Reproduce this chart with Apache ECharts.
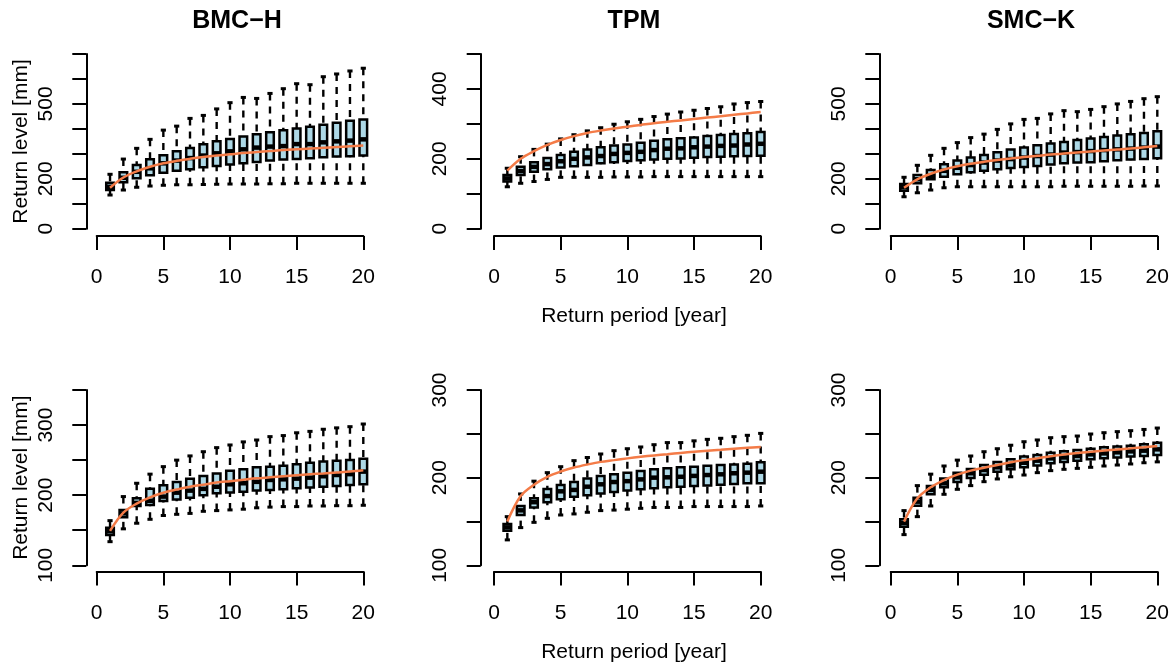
<!DOCTYPE html>
<html>
<head>
<meta charset="utf-8">
<script src="https://cdn.jsdelivr.net/npm/echarts@6/dist/echarts.min.js"></script>
<style>
  html, body { margin: 0; padding: 0; background: #ffffff; }
  #chart { width: 1174px; height: 668px; }
</style>
</head>
<body>
<div id="chart"></div>
<script>
// Return periods (years) shown on every panel
const periods = [1,2,3,4,5,6,7,8,9,10,11,12,13,14,15,16,17,18,19,20];

// Box statistics per period: [lower whisker, Q1, median, Q3, upper whisker]
const bmcHTopBox = [
  [135,155,168,184,218],[155,186,204,226,279],[166,202,228,255,322],[171,214,242,278,358],
  [174,224,262,294,395],[176,232,273,310,411],[176,238,283,323,442],[177,246,293,338,454],
  [178,251,302,350,480],[179,257,310,359,505],[179,262,318,369,526],[179,267,325,378,522],
  [180,273,329,386,542],[180,277,331,394,561],[182,279,339,401,581],[182,282,339,409,577],
  [182,286,346,417,609],[182,289,350,425,620],[182,290,353,433,632],[182,293,358,438,643]
];
const bmcHTopFit = [164,205,230,248,262,272,280,287,293,298,303,307,311,315,318,321,324,327,330,333];

const tpmTopBox = [
  [120,135,144,154,173],[130,154,165,177,206],[135,163,177,190,227],[141,170,185,202,242],
  [147,175,193,211,257],[147,179,200,220,269],[147,182,204,227,280],[147,187,208,233,289],
  [148,190,214,238,299],[148,194,217,241,306],[148,196,220,246,313],[149,198,225,252,321],
  [149,200,229,256,328],[149,201,230,259,334],[149,203,233,261,339],[149,205,235,265,344],
  [149,206,237,268,349],[149,207,238,271,357],[149,208,241,273,361],[149,209,243,277,364]
];
const tpmTopFit = [166,200,222,240,254,265,274,281,287,292,297,302,306,310,314,318,322,326,330,334];

const smcKTopBox = [
  [128,152,166,179,206],[144,182,198,215,254],[155,198,212,235,294],[164,208,232,258,322],
  [168,218,244,273,345],[168,226,255,285,365],[168,232,265,295,379],[168,238,273,306,398],
  [168,243,279,317,420],[168,247,285,325,438],[168,251,291,334,442],[168,257,297,341,460],
  [170,262,305,347,473],[170,265,307,355,469],[170,266,311,361,478],[170,270,315,367,489],
  [170,274,318,373,500],[170,277,321,378,510],[171,279,325,383,521],[171,282,329,390,529]
];
const smcKTopFit = [164,198,220,237,250,260,268,275,281,287,292,297,301,305,309,313,317,321,326,331];

const bmcHBotBox = [
  [133.7,143.3,148.5,153.7,163.7],[152,168.4,174,179,198],[160,184.6,189,195.5,217],[165.6,186,192,209,230],
  [171,191.7,198,214,240.7],[172.7,194,203.6,218.8,250],[174,196.5,206.5,223.6,256],[177,200,209,227.4,262],
  [178,202.7,212,231,267.8],[179,204,215.5,235,271.6],[180,205,217,237,276],[182,206.5,219,239.7,278.7],
  [183,207.4,221.7,240.7,283.5],[183.7,208.4,222.6,242,285],[183.7,209.8,223.6,244,289],[184.6,211,225,246.4,291],
  [184.6,212,227,248,294],[185,213,228.8,249,296],[185,214.5,230,250,297.7],[185.6,215.5,233.6,252,301.5]
];
const bmcHBotFit = [149,175,188,197,203.5,208,212,215,218,220,222,224,225.5,227,228.5,229.8,231,232.3,233.6,235.5];

const tpmBotBox = [
  [129,139.5,143.3,147,155.5],[143,157.4,162.7,167.7,181.4],[149,166,172,176.4,196],[153.6,172,179,187,205.7],
  [157.4,175.3,184.4,191.6,212.5],[158.6,178.3,186,195,219.4],[160.5,180,189.7,198.9,223],[162.4,182,192.4,202,227],
  [163,183.6,195,203.8,230.8],[164,185.2,196,205.7,233],[165,186.7,198,207.6,235],[166,187.8,200,209.5,237.6],
  [166,189,200.4,210.6,240],[166,189.7,201,211.8,240],[167,190.5,202,212.5,242],[167,191,203,213.7,243.7],
  [167,192,203.8,214.4,244.9],[167,192.8,205,215,246.8],[167,193.5,205.7,216,248.3],[167.7,193.5,206.8,217.5,250.5]
];
const tpmBotFit = [150,179,192,201,207,211.5,215,218,220,222,223.8,225.4,226.8,228.2,229.5,230.7,231.8,232.9,234,235];

const smcKBotBox = [
  [135,144,148.3,152.5,162.4],[155.5,168,172.6,177,190.9],[167.7,181,186,190.5,204],[181,189,193.5,198.9,213.3],
  [186.7,195,200.4,205.7,220],[190.9,199.6,205,210,224.7],[195.4,203.4,208.7,214.4,229.6],[198.5,206.8,211.8,217.9,233],
  [201,209.5,214,221,237],[203,211.8,217,224,241],[205.7,214,219.4,225.8,243],[208,216.3,222,228.5,245.6],
  [209.5,217.9,223,230,246.8],[210.6,219.4,224.7,231.5,247.5],[211.8,221,226.6,233,249.8],[213.3,222,227.7,234.6,251.3],
  [214.4,223,228.9,235.4,252.5],[215.6,224,230,236.5,253.6],[217,224.7,230.8,238,255],[218,225.8,232.3,239.9,256.6]
];
const smcKBotFit = [149.8,176.4,189,197.3,203.4,208,211.4,214.4,217.5,220,222,224.4,226.3,228,229.6,230.9,232.2,233.4,234.6,236];

// Tick labels that are printed on each y axis (other ticks stay unlabelled)
const yLabelsWide = [0, 200, 500];
const yLabelsTpmTop = [0, 200, 400];
const yLabelsBottom = [100, 200, 300];
const xTicks = [0, 5, 10, 15, 20];

const panelTitles = ['BMC\u2212H', 'TPM', 'SMC\u2212K'];
const yAxisTitle = 'Return level [mm]';
const xAxisTitle = 'Return period [year]';

// ---- layout & styling ----
const W = 1174, H = 668;
const FONT = '"Liberation Sans", Arial, Helvetica, sans-serif';
const BOX_FILL = '#ADD8E6';
const FIT_COLOR = '#F47B47';
const INK = '#000000';

const columns = [
  { x0: 96.7,  x20: 363.3,  axisX: 86.3 },
  { x0: 494.0, x20: 760.7,  axisX: 480.7 },
  { x0: 890.7, x20: 1157.3, axisX: 879.3 }
];
const rows = [
  { top: 54,  axisY: 236.0 },
  { top: 390, axisY: 571.5 }
];

const panels = [
  { row: 0, col: 0, box: bmcHTopBox, fit: bmcHTopFit, yMin: 0,   yMax: 700, yStep: 100, labels: yLabelsWide,   bottom: 228.7 },
  { row: 0, col: 1, box: tpmTopBox,  fit: tpmTopFit,  yMin: 0,   yMax: 500, yStep: 100, labels: yLabelsTpmTop, bottom: 228.7 },
  { row: 0, col: 2, box: smcKTopBox, fit: smcKTopFit, yMin: 0,   yMax: 700, yStep: 100, labels: yLabelsWide,   bottom: 228.7 },
  { row: 1, col: 0, box: bmcHBotBox, fit: bmcHBotFit, yMin: 100, yMax: 350, yStep: 50,  labels: yLabelsBottom, bottom: 565.3 },
  { row: 1, col: 1, box: tpmBotBox,  fit: tpmBotFit,  yMin: 100, yMax: 300, yStep: 50,  labels: yLabelsBottom, bottom: 565.3 },
  { row: 1, col: 2, box: smcKBotBox, fit: smcKBotFit, yMin: 100, yMax: 300, yStep: 50,  labels: yLabelsBottom, bottom: 565.3 }
];

const axisLineStyle = { color: INK, width: 2 };
const labelStyle = { color: INK, fontSize: 21, fontFamily: FONT };

// R-style box: dashed whiskers with staples, filled box and a heavy median bar
function renderBox(params, api) {
  const x = api.value(0);
  const pLo = api.coord([x, api.value(1)]);
  const pQ1 = api.coord([x, api.value(2)]);
  const pMed = api.coord([x, api.value(3)]);
  const pQ3 = api.coord([x, api.value(4)]);
  const pHi = api.coord([x, api.value(5)]);
  const bw = api.size([0.57, 0])[0];
  const sw = bw * 0.68;
  const cx = pLo[0];
  const dash = { stroke: INK, lineWidth: 2.4, lineDash: [7, 6] };
  const staple = { stroke: INK, lineWidth: 3 };
  return {
    type: 'group',
    children: [
      { type: 'line', shape: { x1: cx, y1: pHi[1], x2: cx, y2: pQ3[1] }, style: dash },
      { type: 'line', shape: { x1: cx, y1: pLo[1], x2: cx, y2: pQ1[1] }, style: dash },
      { type: 'line', shape: { x1: cx - sw / 2, y1: pHi[1], x2: cx + sw / 2, y2: pHi[1] }, style: staple },
      { type: 'line', shape: { x1: cx - sw / 2, y1: pLo[1], x2: cx + sw / 2, y2: pLo[1] }, style: staple },
      { type: 'rect', shape: { x: cx - bw / 2, y: pQ3[1], width: bw, height: pQ1[1] - pQ3[1] },
        style: { fill: BOX_FILL, stroke: INK, lineWidth: 2.5 } },
      { type: 'line', shape: { x1: cx - bw / 2, y1: pMed[1], x2: cx + bw / 2, y2: pMed[1] },
        style: { stroke: INK, lineWidth: 4.5 } }
    ]
  };
}

const grid = [], xAxis = [], yAxis = [], series = [];
panels.forEach((p, i) => {
  const c = columns[p.col], r = rows[p.row];
  grid.push({ left: c.x0, width: c.x20 - c.x0, top: r.top, height: p.bottom - r.top, containLabel: false });
  xAxis.push({
    gridIndex: i, type: 'value', min: xTicks[0], max: xTicks[xTicks.length - 1], interval: 5,
    offset: r.axisY - p.bottom,
    axisLine: { show: true, onZero: false, lineStyle: axisLineStyle },
    axisTick: { show: true, length: 14, lineStyle: axisLineStyle },
    axisLabel: Object.assign({ margin: 31, showMinLabel: true, showMaxLabel: true }, labelStyle),
    splitLine: { show: false }
  });
  yAxis.push({
    gridIndex: i, type: 'value', min: p.yMin, max: p.yMax, interval: p.yStep,
    offset: c.x0 - c.axisX,
    axisLine: { show: true, onZero: false, lineStyle: axisLineStyle },
    axisTick: { show: true, length: 14, lineStyle: axisLineStyle },
    axisLabel: Object.assign({
      margin: 30, rotate: 90, showMinLabel: true, showMaxLabel: true,
      formatter: (v) => (p.labels.indexOf(v) >= 0 ? String(v) : '')
    }, labelStyle),
    splitLine: { show: false }
  });
  series.push({
    type: 'custom', xAxisIndex: i, yAxisIndex: i, renderItem: renderBox, clip: false,
    encode: { x: 0, y: [1, 2, 3, 4, 5] },
    data: periods.map((t, k) => [t].concat(p.box[k])),
    z: 2
  });
  series.push({
    type: 'line', xAxisIndex: i, yAxisIndex: i, smooth: 0.35, symbol: 'none',
    lineStyle: { color: FIT_COLOR, width: 2.5 },
    data: periods.map((t, k) => [t, p.fit[k]]),
    z: 3
  });
});

// Panel titles and axis titles
const graphic = [];
const titleX = [237, 634, 1031];
panelTitles.forEach((t, k) => {
  graphic.push({ type: 'text', x: titleX[k], y: 21,
    style: { text: t, font: 'bold 25px ' + FONT, fill: INK, textAlign: 'center', textVerticalAlign: 'middle' } });
});
[316.5, 652].forEach((y) => {
  graphic.push({ type: 'text', x: 634, y: y,
    style: { text: xAxisTitle, font: '21px ' + FONT, fill: INK, textAlign: 'center', textVerticalAlign: 'middle' } });
});
[141.5, 477.6].forEach((y) => {
  graphic.push({ type: 'text', x: 21.5, y: y, rotation: Math.PI / 2,
    style: { text: yAxisTitle, font: '21px ' + FONT, fill: INK, textAlign: 'center', textVerticalAlign: 'middle' } });
});

const chart = echarts.init(document.getElementById('chart'), null, { renderer: 'canvas', width: W, height: H });
chart.setOption({
  animation: false,
  backgroundColor: '#ffffff',
  grid: grid,
  xAxis: xAxis,
  yAxis: yAxis,
  series: series,
  graphic: graphic
});
</script>
</body>
</html>
